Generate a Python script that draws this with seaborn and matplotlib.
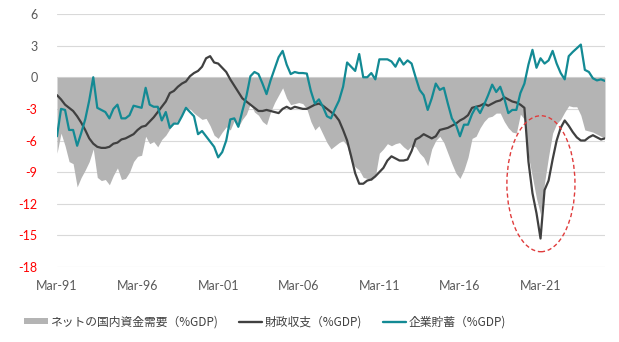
import numpy as np
import pandas as pd
import matplotlib
matplotlib.use("Agg")
import matplotlib.pyplot as plt
from matplotlib.patches import Patch, Ellipse
from matplotlib.lines import Line2D
import seaborn as sns

# Quarterly series, 1991Q1 - 2025Q1, % of GDP
quarters = pd.period_range("1991Q1", "2025Q1", freq="Q")

net_demand = [
    -7.2, -5.3, -6.5, -8.0, -8.2, -10.4, -9.5, -8.8, -8.0, -6.8,
    -9.5, -9.8, -9.7, -10.2, -9.3, -8.6, -9.7, -9.6, -9.0, -8.0,
    -7.5, -7.4, -5.6, -6.3, -6.1, -6.6, -5.9, -5.5, -4.9, -4.4,
    -4.1, -3.5, -2.9, -3.0, -3.4, -3.7, -4.0, -3.9, -4.6, -5.5,
    -5.8, -5.2, -4.7, -5.0, -4.1, -4.7, -4.0, -3.5, -2.5, -3.3,
    -3.6, -4.2, -4.5, -3.3, -2.4, -1.7, -1.0, -2.0, -2.6, -2.5,
    -2.4, -2.5, -3.0, -4.2, -5.0, -4.6, -5.4, -6.2, -6.8, -6.5,
    -6.2, -6.0, -6.5, -8.0, -8.5, -8.8, -9.5, -9.6, -9.8, -9.4,
    -7.2, -6.8, -6.3, -6.5, -6.3, -6.2, -6.6, -6.9, -6.5, -6.6,
    -7.2, -7.6, -8.4, -6.8, -6.0, -5.6, -6.2, -7.2, -8.2, -9.1,
    -9.6, -8.8, -7.6, -5.8, -5.6, -4.8, -4.2, -3.8, -3.7, -3.4,
    -3.4, -4.2, -4.8, -5.2, -5.3, -3.5, -4.0, -7.5, -9.5, -11.5,
    -13.0, -10.0, -7.5, -5.3, -4.4, -4.0, -3.3, -2.7, -2.8, -2.8,
    -3.6, -5.0, -5.1, -5.2, -5.4, -5.6, -5.8,
]

fiscal_balance = [
    -1.7, -2.1, -2.6, -2.9, -3.2, -3.7, -4.3, -5.0, -5.8, -6.3,
    -6.6, -6.7, -6.7, -6.6, -6.3, -6.2, -5.9, -5.8, -5.6, -5.4,
    -5.0, -4.7, -4.6, -4.2, -3.8, -3.3, -2.8, -2.3, -1.5, -1.3,
    -0.9, -0.6, -0.4, 0.1, 0.4, 0.6, 1.0, 1.8, 2.0, 1.4,
    1.3, 0.9, 0.5, -0.2, -0.8, -1.4, -2.0, -2.3, -2.6, -2.9,
    -3.2, -3.2, -3.1, -3.2, -3.3, -3.4, -3.0, -2.8, -3.0, -2.8,
    -2.9, -3.0, -3.0, -2.8, -2.6, -2.5, -2.7, -3.0, -3.3, -3.6,
    -4.1, -5.0, -6.0, -7.5, -9.1, -10.1, -10.1, -9.8, -9.7, -9.4,
    -9.0, -8.6, -7.9, -7.5, -7.7, -7.9, -7.9, -7.8, -7.0, -5.9,
    -5.7, -5.4, -5.6, -5.8, -5.6, -5.0, -4.9, -4.8, -4.6, -4.4,
    -4.1, -3.9, -3.6, -2.9, -2.8, -2.7, -2.5, -2.7, -2.5, -2.3,
    -2.2, -1.9, -2.1, -2.3, -2.4, -2.6, -2.9, -8.0, -11.0, -12.9,
    -15.3, -10.7, -9.8, -7.8, -6.0, -4.8, -4.1, -4.6, -5.2, -5.7,
    -6.0, -6.0, -5.7, -5.5, -5.7, -5.9, -5.8,
]

corp_saving = [
    -5.6, -3.0, -3.1, -5.0, -5.0, -6.5, -5.3, -4.0, -2.2, 0.0,
    -2.9, -3.1, -3.3, -3.9, -3.0, -2.6, -3.9, -3.9, -3.6, -2.7,
    -2.8, -2.9, -1.0, -2.6, -2.8, -2.8, -4.1, -3.3, -4.8, -4.4,
    -4.4, -3.7, -2.9, -3.3, -3.7, -5.4, -5.1, -5.6, -6.1, -6.6,
    -7.6, -7.1, -6.0, -4.0, -3.9, -4.7, -3.2, -1.8, 0.1, 0.5,
    0.3, -0.6, -1.6, -0.3, 0.8, 1.9, 2.5, 1.2, 0.3, 0.5,
    0.4, 0.4, 0.35, -1.3, -2.5, -2.1, -2.8, -3.7, -3.9, -3.0,
    -2.2, -0.9, 1.4, 1.0, 0.6, 2.2, 0.0, 0.0, 0.4, -0.2,
    1.7, 1.7, 1.7, 1.5, 1.0, 1.8, 1.2, 1.6, 1.3, 0.0,
    -1.2, -1.7, -3.1, -2.0, -0.6, -1.2, -1.0, -2.5, -3.9, -4.5,
    -5.6, -4.5, -4.5, -3.5, -2.8, -3.4, -2.6, -1.7, -0.7, -1.4,
    -0.9, -2.0, -3.4, -3.1, -3.1, -1.5, -0.6, 1.2, 2.6, 0.9,
    1.8, 1.3, 1.6, 2.5, 1.3, 0.4, -0.2, 2.0, 2.4, 2.75,
    3.1, 0.7, 0.5, -0.1, -0.3, -0.2, -0.35,
]

y_ticks = [6, 3, 0, -3, -6, -9, -12, -15, -18]
x_tick_years = [1991, 1996, 2001, 2006, 2011, 2016, 2021]
x_tick_labels = ["Mar-91", "Mar-96", "Mar-01", "Mar-06", "Mar-11", "Mar-16", "Mar-21"]

legend_labels = ["ネットの国内資金需要（%GDP)", "財政収支（%GDP)", "企業貯蓄（%GDP)"]

assert len(net_demand) == len(fiscal_balance) == len(corp_saving) == len(quarters)

df = pd.DataFrame({
    "idx": np.arange(len(quarters)),
    "net": net_demand,
    "fiscal": fiscal_balance,
    "corp": corp_saving,
})

sns.set_theme(style="white")
plt.rcParams["font.family"] = ["Lato", "Noto Sans CJK JP", "DejaVu Sans"]

GRAY_FILL = "#b4b4b4"
DARK = "#404040"
TEAL = "#138a94"
TICK_GRAY = "#595959"
RED = "#ff0000"

fig = plt.figure(figsize=(6.19, 3.42), dpi=100)
ax = fig.add_axes([57 / 619, 1 - 267 / 342, (605 - 57) / 619, (267 - 14) / 342])

# horizontal grid
for t in y_ticks:
    ax.axhline(t, color="#d9d9d9", lw=0.8, zorder=0)

ax.fill_between(df["idx"], 0, df["net"], color=GRAY_FILL, lw=0, zorder=1)
sns.lineplot(data=df, x="idx", y="fiscal", ax=ax, color=DARK, lw=1.6, zorder=3)
sns.lineplot(data=df, x="idx", y="corp", ax=ax, color=TEAL, lw=1.6, zorder=4)

# dashed ellipse around the 2020-21 trough
ax.add_patch(Ellipse((120.1, -10.1), width=16.9, height=12.9, fill=False,
                     ec="#e03c3c", lw=1.0, ls=(0, (3, 2)), zorder=5))

ax.set_xlim(0, len(quarters) - 1)
ax.set_ylim(-18, 6)
xt = [(y - 1991) * 4 for y in x_tick_years]
ax.set_xticks(xt)
ax.set_xticklabels(x_tick_labels, fontsize=9, color=TICK_GRAY)
ax.set_yticks(y_ticks)
ax.set_yticklabels([str(t) for t in y_ticks], fontsize=9)
for lab, t in zip(ax.get_yticklabels(), y_ticks):
    lab.set_color(RED if t < 0 else TICK_GRAY)
ax.tick_params(axis="x", length=0, pad=9)
ax.tick_params(axis="y", length=0, pad=14)
ax.set_xlabel("")
ax.set_ylabel("")
for s in ax.spines.values():
    s.set_visible(False)

handles = [
    Patch(facecolor=GRAY_FILL, edgecolor="none"),
    Line2D([0], [0], color=DARK, lw=1.7),
    Line2D([0], [0], color=TEAL, lw=1.7),
]
fig.legend(handles, legend_labels, loc="center", bbox_to_anchor=(265 / 619, 1 - 322 / 342),
           ncol=3, frameon=False, handlelength=2.0, handleheight=0.45,
           handletextpad=0.15, columnspacing=1.8, labelcolor="#404040",
           prop={"family": ["Noto Sans CJK JP", "DejaVu Sans"], "size": 8.5})

fig.savefig("out.png", dpi=100)
